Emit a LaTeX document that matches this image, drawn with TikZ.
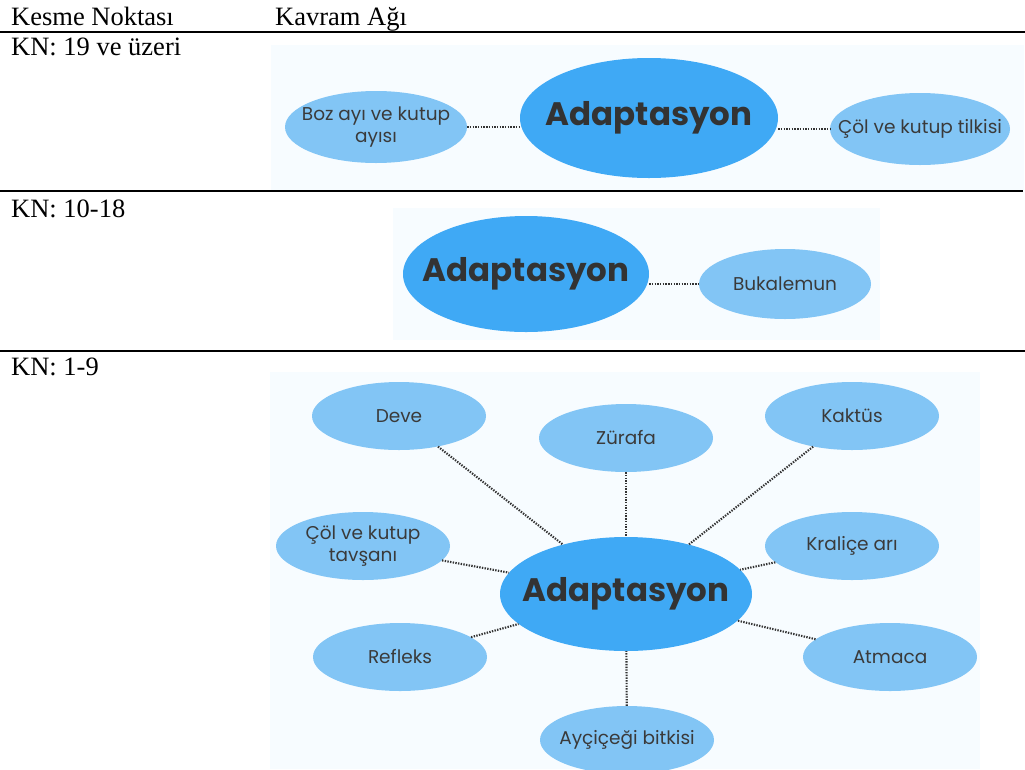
\documentclass[tikz,border=0pt]{standalone}
\usepackage{fontspec}
\setmainfont{Liberation Serif}
\newfontfamily\pop{Poppins}
\usetikzlibrary{shapes.geometric}
\definecolor{cmain}{HTML}{3FA9F5}
\definecolor{csat}{HTML}{82C5F5}
\definecolor{cbg}{HTML}{F7FCFF}
\definecolor{ctxt}{HTML}{3A3A3A}
\definecolor{cdark}{HTML}{333333}
\begin{document}
\begin{tikzpicture}[x=1pt,y=-1pt,
  hdr/.style={anchor=base west,inner sep=0,font=\fontsize{26.5}{30}\selectfont},
  rule/.style={line width=2pt},
  panel/.style={fill=cbg,draw=none},
  hub/.style={ellipse,fill=cmain,draw=none,inner sep=0,
    label={[font=\pop\bfseries\fontsize{32.5}{36}\selectfont,text=cdark]center:Adaptasyon}},
  sat/.style={ellipse,fill=csat,draw=none,inner sep=0,minimum width=174,minimum height=68,
    label={[font=\pop\fontsize{18.5}{22}\selectfont,text=ctxt,align=center]center:#1}},
  link/.style={cdark,line width=2.1pt,dash pattern=on 1.4pt off 1.3pt}]
\useasboundingbox (0,0) rectangle (1025,769);
% table header and rules
\node[hdr] (h1) at (11,25) {Kesme Noktası};
\node[hdr] (h2) at (275,25) {Kavram Ağı};
\draw[rule] (0,31.5) -- (1025,31.5);
\node[hdr] (k1) at (11,55) {KN: 19 ve üzeri};
\node[hdr] (k2) at (11,217) {KN: 10-18};
\node[hdr] (k3) at (11,375) {KN: 1-9};
% panels
\fill[panel] (271,45) rectangle (1024,190);
\fill[panel] (393,208) rectangle (880,340);
\fill[panel] (270,372) rectangle (980,769);
\draw[rule] (0,190.5) -- (271,190.5);
\draw[line width=1.2pt] (271,191) -- (1023,191);
\draw[rule] (0,351) -- (1025,351);
% panel 1
\node[hub,minimum width=258,minimum height=120] (c1) at (649,118) {};
\node[sat={Boz ayı ve kutup\\ayısı},minimum width=182,minimum height=72] (p1a) at (376,127) {};
\node[sat={Çöl ve kutup tilkisi},minimum width=180,minimum height=72] (p1b) at (920,129) {};
\draw[link] (p1a.east) -- (p1a.east -| c1.west);
\draw[link] (p1b.west -| c1.east) -- (p1b.west);
% panel 2
\node[hub,minimum width=246,minimum height=116] (c2) at (526,274) {};
\node[sat={Bukalemun},minimum width=172,minimum height=70] (p2a) at (785,284) {};
\draw[link] (p2a.west -| c2.east) -- (p2a.west);
% panel 3
\node[hub,minimum width=252,minimum height=114] (c3) at (626,594) {};
\node[sat={Deve}] (s1) at (399,416) {};
\node[sat={Zürafa}] (s2) at (626,438) {};
\node[sat={Kaktüs}] (s3) at (852,416) {};
\node[sat={Çöl ve kutup\\tavşanı}] (s4) at (363,546) {};
\node[sat={Kraliçe arı}] (s5) at (852,546) {};
\node[sat={Refleks}] (s6) at (400,657) {};
\node[sat={Atmaca}] (s7) at (890,657) {};
\node[sat={Ayçiçeği bitkisi}] (s8) at (627,740) {};
\foreach \s in {s1,s2,s3,s4,s5,s6,s7,s8} \draw[link] (\s) -- (c3);
\end{tikzpicture}
\end{document}
